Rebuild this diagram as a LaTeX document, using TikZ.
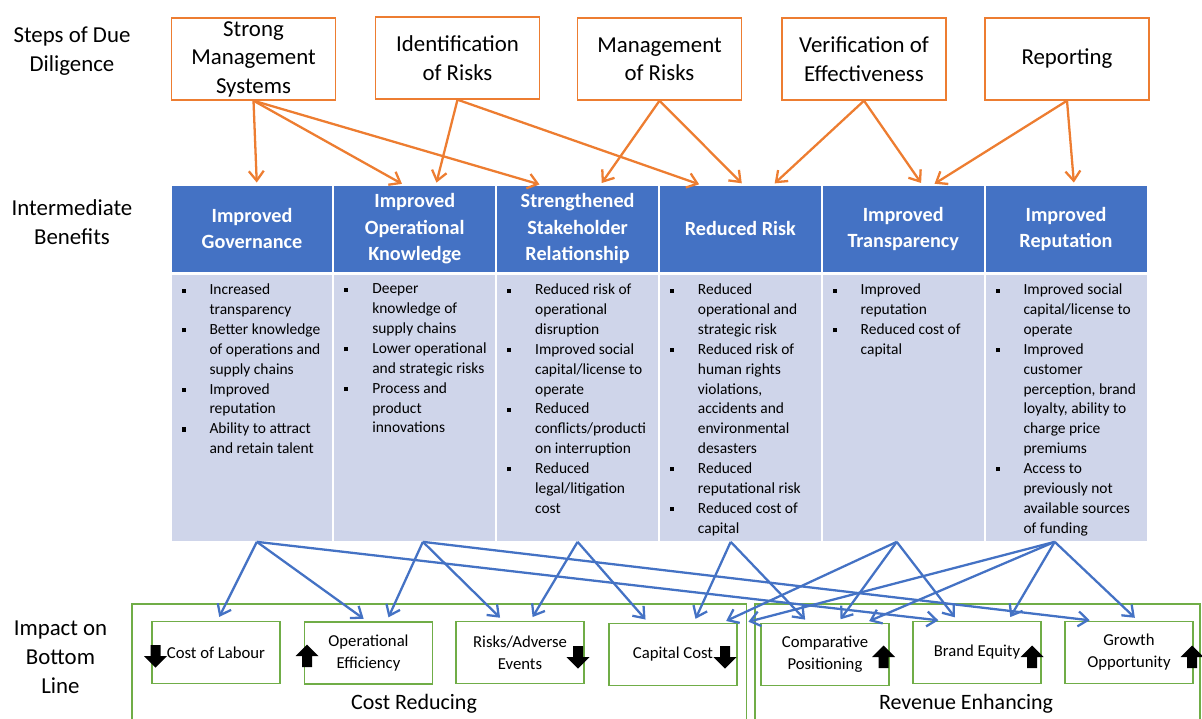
\documentclass[tikz,border=0pt]{standalone}
\usepackage{fontspec}
\setmainfont{Carlito}
\usetikzlibrary{calc}
\usetikzlibrary{arrows.meta}
\definecolor{dueOrange}{HTML}{ED7D31}
\definecolor{benBlue}{HTML}{4472C4}
\definecolor{benLight}{HTML}{CFD5EA}
\definecolor{botGreen}{HTML}{70AD47}
\newcommand{\bul}{\llap{\rule[0.3ex]{2.3pt}{2.3pt}\hspace{13.6pt}}}

\begin{document}
\begin{tikzpicture}[x=0.02cm, y=-0.02cm,
  rowlabel/.style={align=center, font=\fontsize{13}{16.4}\selectfont},
  stepbox/.style={draw=dueOrange, line width=0.8pt, minimum width=3.28cm, minimum height=1.64cm, align=center, inner sep=0, font=\fontsize{13}{16.2}\selectfont},
  headbox/.style={fill=benBlue, text=white, minimum width=3.22cm, minimum height=1.73cm, align=center, inner sep=0, font=\fontsize{11.5}{15}\selectfont\bfseries},
  listbox/.style={fill=benLight, minimum width=3.22cm, minimum height=5.33cm, inner sep=0},
  listtext/.style={anchor=north west, align=left, inner sep=0, font=\fontsize{8.8}{11.3}\selectfont},
  impactbox/.style={draw=botGreen, line width=0.8pt, minimum width=2.56cm, minimum height=1.24cm, align=center, inner sep=0, font=\fontsize{9.5}{12.5}\selectfont},
  grouplabel/.style={font=\fontsize{12.5}{15}\selectfont},
  oarrow/.style={dueOrange, line width=1.3pt, -{Straight Barb[length=5.5pt, width=8.5pt]}, shorten >=1.5pt},
  barrow/.style={benBlue, line width=1.3pt, -{Straight Barb[length=5.5pt, width=8.5pt]}, shorten >=2.5pt}
]
\useasboundingbox (0,0) rectangle (1202,718);

% row labels
\node[rowlabel] (lsteps) at (72,51) {Steps of Due\\Diligence};
\node[rowlabel] (lbenefits) at (72,222) {Intermediate\\Benefits};
\node[rowlabel] (limpact) at (60.5,657) {Impact on\\Bottom\\Line};

% steps of due diligence
\node[stepbox] (sms) at (253.5,59) {Strong\\Management\\Systems};
\node[stepbox] (idr) at (457.5,58) {Identification\\of Risks};
\node[stepbox] (mor) at (659.5,59) {Management\\of Risks};
\node[stepbox] (voe) at (864,59) {Verification of\\Effectiveness};
\node[stepbox] (rpt) at (1067,59) {Reporting};

% intermediate benefits
\foreach \n/\txt [count=\i] in {gov/{Improved\\Governance}, opk/{Improved\\Operational\\Knowledge}, stk/{Strengthened\\Stakeholder\\Relationship}, rrk/{Reduced Risk}, trn/{Improved\\Transparency}, rep/{Improved\\Reputation}} {
  \node[headbox] (h\n) at ({252+162.8*(\i-1)},228.75) {\txt};
  \node[listbox] (b\n) at ({252+162.8*(\i-1)},408.25) {};
}
\node[listtext] (tgov) at ($(bgov.north west)+(38,9)$) {\bul Increased\\transparency\\\bul Better knowledge\\of operations and\\supply chains\\\bul Improved\\reputation\\\bul Ability to attract\\and retain talent};
\node[listtext] (topk) at ($(bopk.north west)+(38,9)$) {\bul Deeper\\knowledge of\\supply chains\\\bul Lower operational\\and strategic risks\\\bul Process and\\product\\innovations};
\node[listtext] (tstk) at ($(bstk.north west)+(38,9)$) {\bul Reduced risk of\\operational\\disruption\\\bul Improved social\\capital/license to\\operate\\\bul Reduced\\conflicts/producti\\on interruption\\\bul Reduced\\legal/litigation\\cost};
\node[listtext] (trrk) at ($(brrk.north west)+(38,9)$) {\bul Reduced\\operational and\\strategic risk\\\bul Reduced risk of\\human rights\\violations,\\accidents and\\environmental\\desasters\\\bul Reduced\\reputational risk\\\bul Reduced cost of\\capital};
\node[listtext] (ttrn) at ($(btrn.north west)+(38,9)$) {\bul Improved\\reputation\\\bul Reduced cost of\\capital};
\node[listtext] (trep) at ($(brep.north west)+(38,9)$) {\bul Improved social\\capital/license to\\operate\\\bul Improved\\customer\\perception, brand\\loyalty, ability to\\charge price\\premiums\\\bul Access to\\previously not\\available sources\\of funding};

% impact on bottom line
\draw[botGreen, line width=0.8pt] (132,604) rectangle (746.5,730);
\draw[botGreen, line width=0.8pt] (755,604) rectangle (1200,730);
\node[grouplabel] (costred) at (414,704) {Cost Reducing};
\node[grouplabel] (revenh) at (966,704) {Revenue Enhancing};
\node[impactbox] (lab) at (216,652.5) {Cost of Labour};
\node[impactbox] (eff) at (368.5,653) {Operational\\Efficiency};
\node[impactbox] (risk) at (520,652.5) {Risks/Adverse\\Events};
\node[impactbox] (cap) at (673,654.5) {Capital Cost};
\node[impactbox] (comp) at (825,654.5) {Comparative\\Positioning};
\node[impactbox] (brand) at (977,652.5) {Brand Equity};
\node[impactbox] (grow) at (1129,652.5) {Growth\\Opportunity};
\foreach \x/\y/\d in {155.5/656/1, 307/656/-1, 578/657/1, 725/657/1, 883.7/657/-1, 1032/657/-1, 1192/657/-1}
  \fill[shift={(\x,\y)}, yscale=\d] (-5,-11) -- (5,-11) -- (5,0) -- (11.5,0) -- (0,11.5) -- (-11.5,0) -- (-5,0) -- cycle;

% arrows
\foreach \src/\dst/\fb in {sms/gov/.53, sms/opk/.435, sms/stk/.28, idr/opk/.63, idr/rrk/.26, mor/stk/.64, mor/rrk/.52, voe/rrk/.70, voe/trn/.62, rpt/trn/.68, rpt/rep/.55}
  \draw[oarrow] (\src.south) -- ($(h\dst.north west)!\fb!(h\dst.north east)$);
\foreach \src/\fa/\dst/\fb in {gov/.53/lab/.51, gov/.53/eff/.49, gov/.53/brand/.235, opk/.55/eff/.64, opk/.55/risk/.37, opk/.55/grow/.23, stk/.50/risk/.58, stk/.50/cap/.31, rrk/.44/cap/.66, rrk/.44/comp/.37, trn/.46/cap/.88, trn/.46/comp/.60, trn/.46/brand/.35, rep/.43/cap/1.05, rep/.43/comp/.81, rep/.43/brand/.74, rep/.43/grow/.57}
  \draw[barrow] ($(b\src.south west)!\fa!(b\src.south east)$) -- ($(\dst.north west)!\fb!(\dst.north east)$);
\end{tikzpicture}
\end{document}
